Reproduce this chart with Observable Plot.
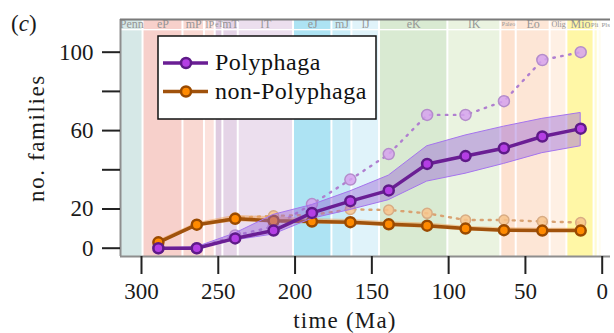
<!DOCTYPE html>
<html><head><meta charset="utf-8">
<script src="https://cdn.jsdelivr.net/npm/d3@7"></script>
<script src="https://cdn.jsdelivr.net/npm/@observablehq/plot@0.6"></script>
<style>
body{margin:0;background:#fff;}
#wrap{position:relative;width:614px;height:333px;font-family:'Liberation Serif','Times New Roman',serif;}
#wrap svg.overlay{position:absolute;left:0;top:0;pointer-events:none;}
</style></head><body><div id="wrap"></div>
<script>
const FONT = "'Liberation Serif', 'Times New Roman', serif";
// Geological periods (Ma)
const periods = ["Penn","eP","mP","lP","eT","mT","lT","eJ","mJ","lJ","eK","lK","Paleo","Eo","Olig","Mio","Pli","Pls"];
const periodStart = [313.7, 299, 273, 259, 252, 247, 237, 201, 176, 163, 145, 100.5, 66, 56, 33.9, 23, 5.3, 2.6];
const periodEnd   = [299, 273, 259, 252, 247, 237, 201, 176, 163, 145, 100.5, 66, 56, 33.9, 23, 5.3, 2.6, 0];
const periodColors = ["#d6e8e7","#f7d0cb","#f9d8d2","#fce2dd","#dfcbe0","#e5d4e7","#ecdfee","#ade3f3","#c9ecf7","#e0f3fa","#d9ead2","#eaf3e0","#fde2d0","#fde6d6","#fef0e4","#fff7a6","#fffbd2","#fffdee"];
const labelShift = [0,0,0,0,0,0,0,0,0,0,0,0,0,0,0,0,-1,5];

// Series
const timeMa   = [289, 264, 239, 214, 189, 164, 139, 114, 89, 64, 39, 14];
const polyMean = [0, 0, 5, 9, 18, 24, 29.5, 43, 47, 51, 57, 61];
const polyLow  = [0, 0, 4, 7, 15, 19.5, 24.5, 34, 38, 43, 48.5, 52];
const polyHigh = [0, 0.5, 7.5, 17, 22, 29, 37, 52, 57.5, 62, 66, 69];
const polyRaw  = [0, 0, 6.5, 11, 22.5, 35, 48, 68, 68, 75, 96, 100];
const nonMean  = [3, 12, 15, 14, 13.6, 13.3, 12.2, 11.5, 10, 9.2, 9, 9];
const nonLow   = [2.3, 10.8, 13.5, 12.8, 12.3, 12, 11, 10.2, 8.8, 8.2, 8, 8];
const nonHigh  = [4, 13, 16.8, 16, 15, 14.6, 13.5, 12.8, 11.2, 10.4, 10.2, 10.2];
const nonRaw   = [3, 12, 15.5, 16.5, 17, 19.8, 19.5, 17.8, 14.4, 14.4, 13.6, 13.1];

const xTicks = [300, 250, 200, 150, 100, 50, 0];
const yTicks = [0, 20, 40, 60, 80, 100];
const yTickLabels = ["0", "20", "", "60", "", "100"];

const xDomain = [313.67, -5.4];
const yDomain = [-4.23, 116.68];
const pxPerMa = 490 / (xDomain[0] - xDomain[1]);

const poly = timeMa.map((t, i) => ({t, m: polyMean[i], lo: polyLow[i], hi: polyHigh[i], raw: polyRaw[i]}));
const non = timeMa.map((t, i) => ({t, m: nonMean[i], lo: nonLow[i], hi: nonHigh[i], raw: nonRaw[i]}));
const idx = periods.map((_, i) => i);
// label size shrinks to fit narrow periods
const labelSize = i => i >= 16 ? 7 : Math.max(6, Math.min(12, ((periodStart[i] - periodEnd[i]) * pxPerMa + (i === 0 ? 10 : 0)) / (periods[i].length * 0.52)));

const chart = Plot.plot({
  width: 614, height: 333,
  marginLeft: 120, marginRight: 4, marginTop: 19, marginBottom: 77,
  style: {fontFamily: FONT, fontSize: "23px", background: "transparent", color: "#1a1a1a"},
  x: {domain: xDomain},
  y: {domain: yDomain},
  color: {type: "identity"},
  marks: [
    Plot.rect(idx, {x1: i => periodStart[i], x2: i => periodEnd[i], y1: yDomain[0], y2: 110.9, fill: i => periodColors[i], insetLeft: 1, insetRight: 1}),
    Plot.rect(idx, {x1: i => periodStart[i], x2: i => periodEnd[i], y1: 111.6, y2: yDomain[1], fill: i => periodColors[i], insetLeft: 1, insetRight: 1}),
    Plot.text(idx.slice(0, 16), {x: i => (periodStart[i] + periodEnd[i]) / 2, y: 114.1, text: i => periods[i], fill: "#959595", fontSize: labelSize, clip: true}),
    Plot.text([16], {x: i => (periodStart[i] + periodEnd[i]) / 2, y: 114.1, text: i => periods[i], fill: "#959595", fontSize: 7, dx: -1.5, clip: true}),
    Plot.text([17], {x: i => (periodStart[i] + periodEnd[i]) / 2, y: 114.1, text: i => periods[i], fill: "#959595", fontSize: 7, dx: 5.5, clip: true}),
    Plot.ruleX([xDomain[0]], {stroke: "#8e8e8e", strokeWidth: 2}),
    Plot.ruleY([yDomain[0]], {stroke: "#8e8e8e", strokeWidth: 2}),
    Plot.ruleY([yDomain[1]], {stroke: "#7a7a7a", strokeWidth: 2}),
    // raw (dotted) series
    Plot.line(non, {x: "t", y: "raw", stroke: "#d9a272", strokeWidth: 2.4, strokeDasharray: "2,6", strokeLinecap: "round"}),
    Plot.dot(non, {x: "t", y: "raw", r: 5, fill: "#f8c48c", fillOpacity: 0.85, stroke: "#d8ac84", strokeWidth: 1.5}),
    Plot.line(poly, {x: "t", y: "raw", stroke: "#b07fd0", strokeWidth: 2.4, strokeDasharray: "1.5,6.5", strokeLinecap: "round"}),
    Plot.dot(poly, {x: "t", y: "raw", r: 5.5, fill: "#d6a2ee", fillOpacity: 0.85, stroke: "#b48ccb", strokeWidth: 1.5}),
    // non-Polyphaga
    Plot.areaY(non, {x: "t", y1: "lo", y2: "hi", fill: "#f0a050", fillOpacity: 0.5}),
    Plot.line(non, {x: "t", y: "m", stroke: "#a0520c", strokeWidth: 3.5}),
    Plot.dot(non, {x: "t", y: "m", r: 5, fill: "#ff8a00", stroke: "#9a4a00", strokeWidth: 2.5}),
    // Polyphaga
    Plot.areaY(poly, {x: "t", y1: "lo", y2: "hi", fill: "#9a66d8", fillOpacity: 0.45, stroke: "#a574ee", strokeWidth: 1}),
    Plot.line(poly, {x: "t", y: "m", stroke: "#6a1e94", strokeWidth: 3.5}),
    Plot.dot(poly, {x: "t", y: "m", r: 5, fill: "#b43ee4", stroke: "#5e1a88", strokeWidth: 2.5}),
    Plot.axisX(xTicks, {tickSize: 18, tickPadding: 8, strokeWidth: 2, stroke: "#222", label: null, fontSize: 23}),
    Plot.axisY(yTicks, {tickSize: 18, tickPadding: 9, strokeWidth: 2, stroke: "#222", label: null, fontSize: 23, tickFormat: d => yTickLabels[yTicks.indexOf(d)]})
  ]
});
const wrap = document.getElementById("wrap");
wrap.appendChild(chart);

// Overlay texts and legend
const ov = d3.select(wrap).append("svg").attr("class", "overlay").attr("width", 614).attr("height", 333)
  .style("font-family", FONT);
const title = ov.append("text").attr("x", 11).attr("y", 31).attr("font-size", 23).attr("fill", "#1a1a1a");
title.append("tspan").text("(");
title.append("tspan").attr("font-style", "italic").text("c");
title.append("tspan").text(")");
ov.append("text").attr("x", 345).attr("y", 328).attr("text-anchor", "middle").attr("font-size", 23).attr("letter-spacing", 1.2).attr("fill", "#1a1a1a").text("time (Ma)");
ov.append("text").attr("transform", "translate(44,138) rotate(-90)").attr("text-anchor", "middle").attr("font-size", 23).attr("letter-spacing", 1.6).attr("fill", "#1a1a1a").text("no. families");

const legendItems = ["Polyphaga", "non-Polyphaga"];
const legendLine = ["#6a1e94", "#a0520c"];
const legendFill = ["#b43ee4", "#ff8a00"];
const legendStroke = ["#5e1a88", "#9a4a00"];
const lg = ov.append("g").attr("transform", "translate(158,36)");
lg.append("rect").attr("width", 218).attr("height", 83).attr("fill", "#fff").attr("stroke", "#111").attr("stroke-width", 1.5);
legendItems.forEach((name, i) => {
  const cy = 27 + i * 28.5;
  lg.append("line").attr("x1", 5).attr("x2", 50).attr("y1", cy).attr("y2", cy).attr("stroke", legendLine[i]).attr("stroke-width", 3.5);
  lg.append("circle").attr("cx", 28).attr("cy", cy).attr("r", 5).attr("fill", legendFill[i]).attr("stroke", legendStroke[i]).attr("stroke-width", 2.5);
  lg.append("text").attr("x", 57).attr("y", cy + 7).attr("font-size", 24).attr("letter-spacing", 0.5).attr("fill", "#111").text(name);
});
</script></body></html>
